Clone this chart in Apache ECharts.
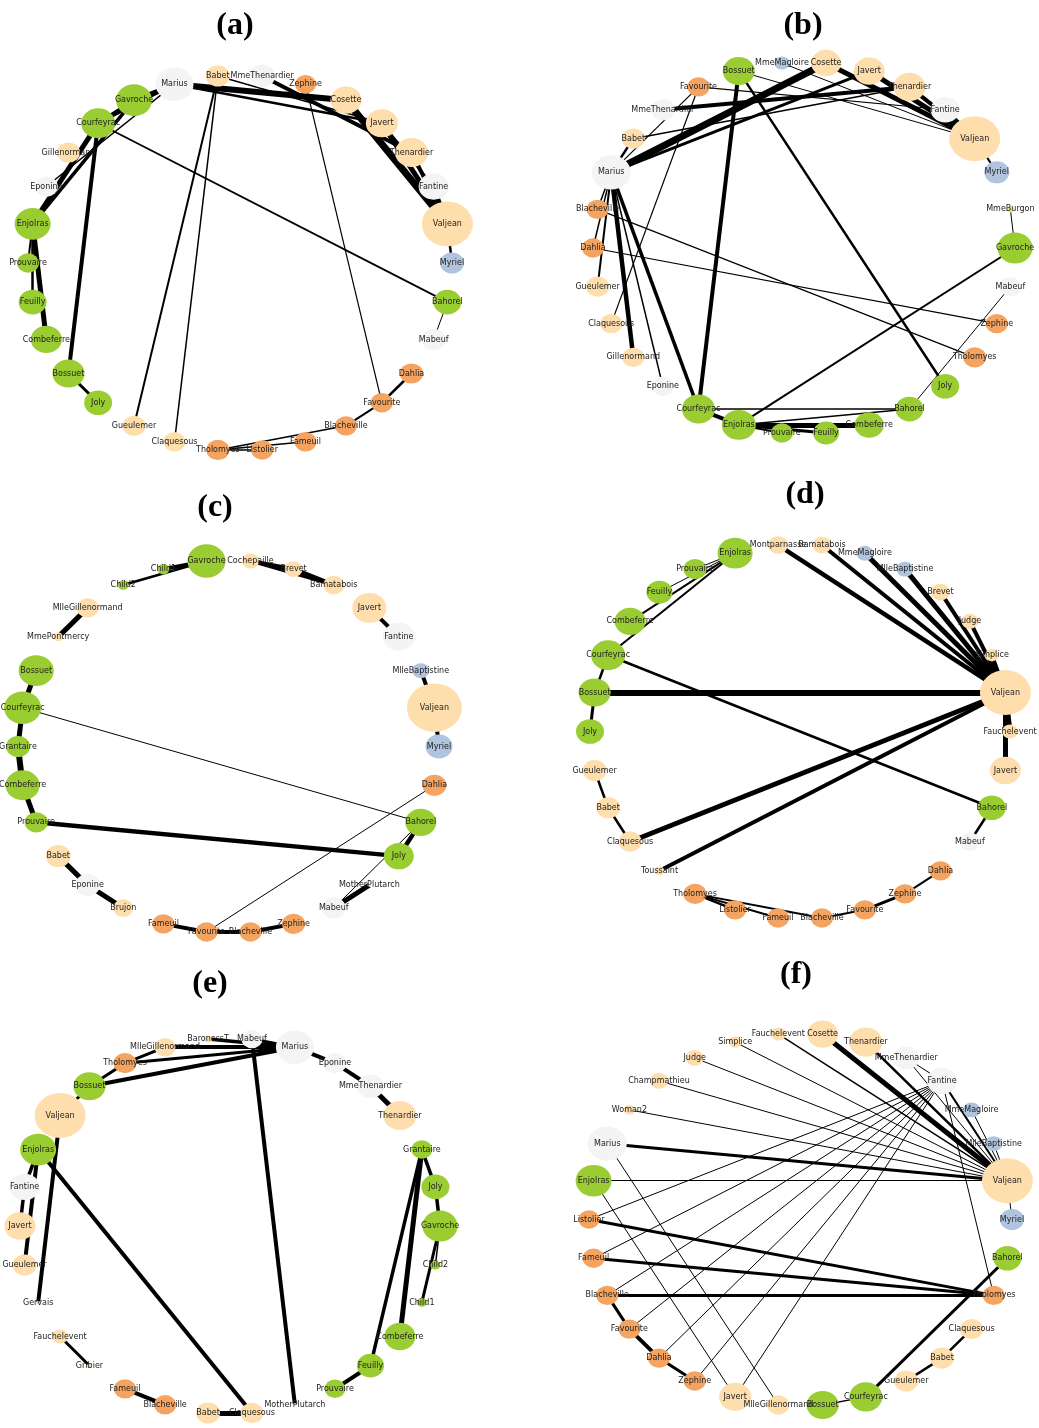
<!DOCTYPE html>
<html>
<head>
<meta charset="utf-8">
<script src="https://cdn.jsdelivr.net/npm/echarts@6/dist/echarts.min.js"></script>
<style>
html,body{margin:0;padding:0;background:#fff;}
#chart{width:1039px;height:1428px;}
</style>
</head>
<body>
<div id="chart"></div>
<script>
// ---------- DATA ----------
// Node order = position on the circular layout (index 0 at the right, counter-clockwise)
// groups: g=green, p=peach, o=orange, w=light gray, b=light blue, y=khaki
// weights: node weight (drawn as marker width), edge weight (drawn as line width)

const aNames = ['Myriel','Valjean','Fantine','Thenardier','Javert','Cosette','Zephine','MmeThenardier','Babet','Marius','Gavroche','Courfeyrac','Gillenormand','Eponine','Enjolras','Prouvaire','Feuilly','Combeferre','Bossuet','Joly','Gueulemer','Claquesous','Tholomyes','Listolier','Fameuil','Blacheville','Favourite','Dahlia','Mabeuf','Bahorel'];
const aGroups = ['b','p','w','p','p','p','o','w','p','w','g','g','p','w','g','g','g','g','g','g','p','p','o','o','o','o','o','o','w','g'];
const aWeights = [24,51,30,33,32,31,21,26,24,38,36,34,23,23,36,22,28,31,32,28,23,22,23,22,22,22,22,23,24,28];
const aEdges = [
 ['Myriel','Valjean',2.5],['Valjean','Fantine',4],['Valjean','Thenardier',4],['Valjean','Javert',5],
 ['Valjean','Cosette',7],['Marius','Javert',2.5],['Marius','Cosette',6],['MmeThenardier','Thenardier',4],
 ['Javert','Fantine',2.5],['Babet','Javert',1.5],['Babet','Gueulemer',2],['Babet','Claquesous',1.5],
 ['Zephine','Favourite',1.2],['Courfeyrac','Bahorel',1.8],['Courfeyrac','Bossuet',4],['Gavroche','Courfeyrac',3.5],
 ['Marius','Gavroche',4],['Marius','Courfeyrac',3],['Marius','Eponine',1.5],['Courfeyrac','Enjolras',5],
 ['Gavroche','Enjolras',3.5],['Enjolras','Prouvaire',2],['Enjolras','Feuilly',2.5],['Enjolras','Combeferre',5],
 ['Bossuet','Joly',3],['Tholomyes','Listolier',1.5],['Tholomyes','Fameuil',1.5],['Tholomyes','Blacheville',1.5],
 ['Blacheville','Favourite',2],['Favourite','Dahlia',2.5],['Bahorel','Mabeuf',1]
];

const bNames = ['Gavroche','MmeBurgon','Myriel','Valjean','Fantine','Thenardier','Javert','Cosette','MmeMagloire','Bossuet','Favourite','MmeThenardier','Babet','Marius','Blacheville','Dahlia','Gueulemer','Claquesous','Gillenormand','Eponine','Courfeyrac','Enjolras','Prouvaire','Feuilly','Combeferre','Bahorel','Joly','Tholomyes','Zephine','Mabeuf'];
const bGroups = ['g','y','b','p','w','p','p','p','b','g','o','w','p','w','o','o','p','p','p','w','g','g','g','g','g','g','g','o','o','w'];
const bWeights = [35,7,25,51,29,32,31,30,15,32,22,24,23,39,22,22,23,22,22,22,33,34,22,26,29,28,28,23,22,22];
const bEdges = [
 ['Gavroche','MmeBurgon',1],['Myriel','Valjean',2],['Valjean','Fantine',4],['Valjean','Thenardier',4],
 ['Valjean','Javert',5],['Valjean','Cosette',5],['Cosette','Marius',7],['Marius','Javert',3],
 ['MmeThenardier','Thenardier',4],['Babet','Thenardier',1.5],['Bossuet','Valjean',1],['MmeMagloire','Valjean',1],
 ['Favourite','Fantine',1.2],['Bossuet','Joly',2.5],['Bossuet','Courfeyrac',4],['Marius','Courfeyrac',3.5],
 ['Marius','Gillenormand',4.5],['Marius','Eponine',1.5],['Babet','Marius',2.5],['Favourite','Marius',1.2],
 ['Favourite','Claquesous',1.2],['Marius','Blacheville',1.5],['Marius','Dahlia',1.5],['Marius','Gueulemer',2],
 ['Blacheville','Tholomyes',1.2],['Dahlia','Zephine',1.2],['Gavroche','Enjolras',2],['Mabeuf','Bahorel',1],
 ['Courfeyrac','Bahorel',1.5],['Enjolras','Bahorel',1.5],['Courfeyrac','Enjolras',4],['Enjolras','Combeferre',5],
 ['Enjolras','Feuilly',3],['Enjolras','Prouvaire',2]
];

const cNames = ['Myriel','Valjean','MlleBaptistine','Fantine','Javert','Bamatabois','Brevet','Cochepaille','Gavroche','Child1','Child2','MlleGillenormand','MmePontmercy','Bossuet','Courfeyrac','Grantaire','Combeferre','Prouvaire','Babet','Eponine','Brujon','Fameuil','Favourite','Blacheville','Zephine','Mabeuf','MotherPlutarch','Joly','Bahorel','Dahlia'];
const cGroups = ['b','p','b','w','p','p','p','p','g','g','g','p','p','g','g','g','g','g','p','w','p','o','o','o','o','w','w','g','g','o'];
const cWeights = [27,55,17,32,34,21,18,17,38,12,11,22,10,35,37,24,34,23,25,25,20,22,22,22,23,24,4,30,31,24];
const cEdges = [
 ['Valjean','Myriel',4],['Valjean','MlleBaptistine',4],['Javert','Fantine',4],['Cochepaille','Brevet',4],
 ['Brevet','Bamatabois',4.5],['Cochepaille','Bamatabois',3],['Gavroche','Child1',4],['Gavroche','Child2',2.5],
 ['MlleGillenormand','MmePontmercy',5],['Bossuet','Courfeyrac',5],['Courfeyrac','Grantaire',5],['Grantaire','Combeferre',6],
 ['Combeferre','Prouvaire',5],['Courfeyrac','Bahorel',1],['Prouvaire','Joly',4.5],['Babet','Eponine',5],
 ['Eponine','Brujon',5],['Fameuil','Favourite',4],['Favourite','Blacheville',4],['Blacheville','Zephine',4],
 ['Favourite','Dahlia',1],['Joly','Bahorel',4.5],['MotherPlutarch','Mabeuf',5],['Bahorel','Mabeuf',1]
];

const dNames = ['Fauchelevent','Valjean','Simplice','Judge','Brevet','MlleBaptistine','MmeMagloire','Bamatabois','Montparnasse','Enjolras','Prouvaire','Feuilly','Combeferre','Courfeyrac','Bossuet','Joly','Gueulemer','Babet','Claquesous','Toussaint','Tholomyes','Listolier','Fameuil','Blacheville','Favourite','Zephine','Dahlia','Mabeuf','Bahorel','Javert'];
const dGroups = ['p','p','p','p','p','b','b','p','p','g','g','g','g','g','g','g','p','p','p','p','o','o','o','o','o','o','o','w','g','p'];
const dWeights = [16,51,14,17,19,17,17,19,20,35,23,26,31,34,32,28,24,24,23,10,23,22,22,22,22,22,22,21,28,31];
const dEdges = [
 ['Valjean','Fauchelevent',5],['Valjean','Javert',5],['Valjean','Simplice',4],['Valjean','Judge',4],
 ['Valjean','Brevet',4],['Valjean','MlleBaptistine',5],['Valjean','MmeMagloire',5],['Valjean','Bamatabois',4],
 ['Valjean','Montparnasse',4.5],['Valjean','Bossuet',6],['Valjean','Claquesous',5],['Valjean','Toussaint',4],
 ['Courfeyrac','Bahorel',2.5],['Enjolras','Prouvaire',1],['Enjolras','Feuilly',1],['Enjolras','Combeferre',2],
 ['Enjolras','Courfeyrac',2],['Courfeyrac','Bossuet',2.5],['Bossuet','Joly',3],['Gueulemer','Babet',2.5],
 ['Babet','Claquesous',2.5],['Tholomyes','Listolier',2.5],['Tholomyes','Fameuil',2],['Tholomyes','Blacheville',2],
 ['Blacheville','Favourite',2],['Favourite','Zephine',3],['Zephine','Dahlia',2],['Bahorel','Mabeuf',2.5]
];

const eNames = ['Gavroche','Joly','Grantaire','Thenardier','MmeThenardier','Eponine','Marius','Mabeuf','BaronessT','MlleGillenormand','Tholomyes','Bossuet','Valjean','Enjolras','Fantine','Javert','Gueulemer','Gervais','Fauchelevent','Gribier','Fameuil','Blacheville','Babet','Claquesous','MotherPlutarch','Prouvaire','Feuilly','Combeferre','Child1','Child2'];
const eGroups = ['g','g','g','p','w','w','w','w','p','p','o','g','p','g','w','p','p','p','p','p','o','o','p','p','w','g','g','g','g','g'];
const eWeights = [35,28,21,33,27,23,38,21,8,21,23,32,51,36,30,31,24,4,16,5,22,22,24,23,4,21,27,31,10,10];
const eEdges = [
 ['Gavroche','Joly',3.5],['Joly','Grantaire',3.5],['Gavroche','Child1',3],['Gavroche','Child2',1.5],
 ['Grantaire','Combeferre',5],['Grantaire','Feuilly',3.5],['Feuilly','Prouvaire',4],['Thenardier','MmeThenardier',5],
 ['MmeThenardier','Eponine',4],['Eponine','Marius',4],['BaronessT','Marius',3.5],['MlleGillenormand','Marius',4],
 ['Tholomyes','Marius',3],['Bossuet','Marius',4],['Mabeuf','MotherPlutarch',4],['Bossuet','Tholomyes',3],
 ['Tholomyes','MlleGillenormand',3],['Bossuet','Valjean',3],['Valjean','Gervais',4],['Enjolras','Gueulemer',4],
 ['Enjolras','Fantine',3.5],['Fantine','Javert',3.5],['Enjolras','Claquesous',4],['Fauchelevent','Gribier',3],
 ['Fameuil','Blacheville',4],['Babet','Claquesous',5],['Mabeuf','Marius',3]
];

const fNames = ['Myriel','Valjean','MlleBaptistine','MmeMagloire','Fantine','MmeThenardier','Thenardier','Cosette','Fauchelevent','Simplice','Judge','Champmathieu','Woman2','Marius','Enjolras','Listolier','Fameuil','Blacheville','Favourite','Dahlia','Zephine','Javert','MlleGillenormand','Bossuet','Courfeyrac','Gueulemer','Babet','Claquesous','Tholomyes','Bahorel'];
const fGroups = ['b','p','b','b','w','w','p','p','p','p','p','p','p','w','g','o','o','o','o','o','o','p','p','g','g','p','p','p','o','g'];
const fWeights = [24,51,17,17,30,26,33,31,15,13,18,18,11,39,36,21,22,22,22,22,22,32,22,32,33,24,24,23,22,28];
const fEdges = [
 ['Myriel','Valjean',1],['MlleBaptistine','Valjean',1],['MmeMagloire','Valjean',1],['Fantine','Valjean',2],
 ['MmeThenardier','Valjean',1],['MmeThenardier','Fantine',1],['Thenardier','Valjean',2.5],['Cosette','Valjean',5],
 ['Fauchelevent','Valjean',1.5],['Simplice','Valjean',1],['Judge','Valjean',1],['Champmathieu','Valjean',1],
 ['Woman2','Valjean',1],['Marius','Valjean',3],['Enjolras','Valjean',1],['Fantine','Listolier',1],
 ['Fantine','Fameuil',1],['Fantine','Blacheville',1],['Fantine','Favourite',1],['Fantine','Dahlia',1],
 ['Fantine','Zephine',1],['Fantine','Javert',1],['Fantine','Tholomyes',1],['Marius','MlleGillenormand',1],
 ['Enjolras','Javert',1],['Listolier','Tholomyes',3],['Fameuil','Tholomyes',3],['Blacheville','Tholomyes',3],
 ['Blacheville','Favourite',3],['Favourite','Dahlia',4],['Dahlia','Zephine',3],['Bahorel','Courfeyrac',3],
 ['Courfeyrac','Bossuet',1.5],['Gueulemer','Babet',2.5],['Babet','Claquesous',2.5]
];

const titles = ['(a)','(b)','(c)','(d)','(e)','(f)'];

// ---------- STYLE / LAYOUT ----------
const COLORS = {g:'#9ACD32', p:'#FFDEAD', o:'#F4A460', w:'#F4F4F4', b:'#B0C4DE', y:'#F0E68C'};
const panels = [
  {names:aNames, groups:aGroups, weights:aWeights, edges:aEdges, cx:240, cy:263, rx:212, ry:188, tx:235, ty:26},
  {names:bNames, groups:bGroups, weights:bWeights, edges:bEdges, cx:804, cy:248, rx:211, ry:186, tx:803, ty:26},
  {names:cNames, groups:cGroups, weights:cWeights, edges:cEdges, cx:228.5, cy:746.5, rx:210.5, ry:186.5, tx:215, ty:508},
  {names:dNames, groups:dGroups, weights:dWeights, edges:dEdges, cx:800, cy:731.5, rx:210, ry:187.5, tx:805, ty:495},
  {names:eNames, groups:eGroups, weights:eWeights, edges:eEdges, cx:230, cy:1226, rx:210, ry:188, tx:210, ty:984},
  {names:fNames, groups:fGroups, weights:fWeights, edges:fEdges, cx:800.5, cy:1219.5, rx:211.5, ry:186.5, tx:796, ty:975}
];

const grids = [], xAxes = [], yAxes = [], series = [], graphics = [];
panels.forEach((P, k) => {
  grids.push({left:P.cx - P.rx, top:P.cy - P.ry, width:2*P.rx, height:2*P.ry, containLabel:false});
  xAxes.push({type:'value', gridIndex:k, min:-1, max:1, show:false});
  yAxes.push({type:'value', gridIndex:k, min:-1, max:1, show:false});
  const N = P.names.length;
  // circular layout: evenly spaced angles
  const nodes = P.names.map((n, i) => {
    const a = 2 * Math.PI * i / N;
    return {
      name:n,
      value:[Math.cos(a), Math.sin(a)],
      symbolSize:[P.weights[i], P.weights[i]*0.88],
      itemStyle:{color:COLORS[P.groups[i]]}
    };
  });
  const links = P.edges.map(e => ({source:e[0], target:e[1], lineStyle:{width:e[2]}}));
  series.push({
    type:'graph', coordinateSystem:'cartesian2d', xAxisIndex:k, yAxisIndex:k,
    symbol:'circle',
    data:nodes, links:links,
    lineStyle:{color:'#000', opacity:1, curveness:0},
    label:{show:true, position:'inside', fontSize:8, color:'#222', fontFamily:'DejaVu Sans'},
    emphasis:{disabled:true},
    silent:true
  });
  graphics.push({type:'text', x:P.tx, y:P.ty, style:{text:titles[k], font:'bold 32px "Liberation Serif"', fill:'#000', textAlign:'center', textVerticalAlign:'middle'}});
});

const chart = echarts.init(document.getElementById('chart'), null, {renderer:'canvas'});
chart.setOption({
  animation:false,
  backgroundColor:'#fff',
  grid:grids, xAxis:xAxes, yAxis:yAxes,
  series:series,
  graphic:graphics
});
</script>
</body>
</html>
